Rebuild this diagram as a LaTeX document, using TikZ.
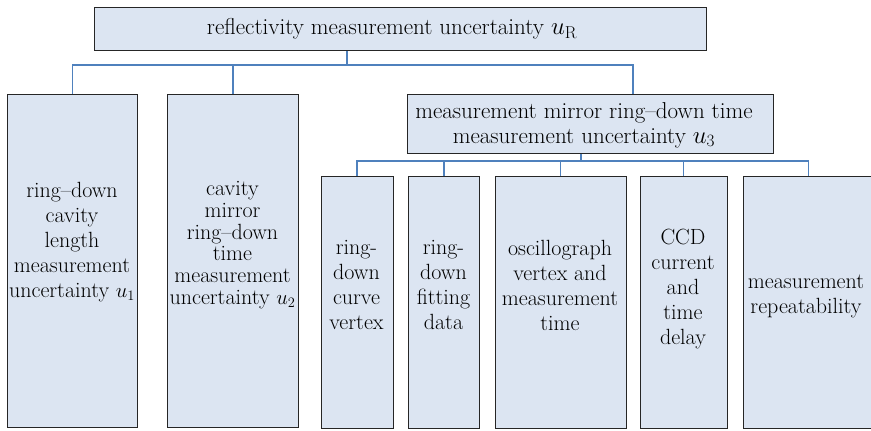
\documentclass[tikz,border=0pt]{standalone}
\definecolor{boxfill}{RGB}{220,229,242}
\definecolor{linkblue}{RGB}{79,129,189}
\begin{document}
\begin{tikzpicture}[x=1pt,y=-1pt,
  box/.style={draw=black!85, line width=1.1pt, fill=boxfill, inner sep=0pt, anchor=north west},
  lbl/.style={font=\fontsize{22}{25}\selectfont, align=center, inner sep=0pt},
  link/.style={draw=linkblue, line width=1.3pt}]
\useasboundingbox (0,0) rectangle (871,431);

% top level
\node[box, minimum width=612pt, minimum height=43pt] (top) at (94,7) {};
\node[lbl, font=\fontsize{23}{25}\selectfont] (toptxt) at (392,29) {reflectivity measurement uncertainty $u_{\mathrm{R}}$};

% second level
\node[box, minimum width=130pt, minimum height=333pt] (b1) at (7,94) {};
\node[box, minimum width=131pt, minimum height=333pt] (b2) at (167,94) {};
\node[box, minimum width=366pt, minimum height=59pt] (b3) at (407,94) {};
\node[lbl] (b1txt) at (72,242) {ring--down\\cavity\\length\\measurement\\uncertainty $u_1$};
\node[lbl, font=\fontsize{22}{21.7}\selectfont] (b2txt) at (232.5,245) {cavity\\mirror\\ring--down\\time\\measurement\\uncertainty $u_2$};
\node[lbl, font=\fontsize{23}{25}\selectfont] (b3txt) at (584,125) {measurement mirror ring--down time\\measurement uncertainty $u_3$};

% third level
\node[box, minimum width=72pt, minimum height=252pt] (c1) at (320.5,176) {};
\node[box, minimum width=71pt, minimum height=252pt] (c2) at (408,176) {};
\node[box, minimum width=131pt, minimum height=252pt] (c3) at (494.5,176) {};
\node[box, minimum width=87pt, minimum height=252pt] (c4) at (639.5,176) {};
\node[box, minimum width=130pt, minimum height=252pt] (c5) at (743,176) {};
\node[lbl] (c1txt) at (356.5,285) {ring-\\down\\curve\\vertex};
\node[lbl] (c2txt) at (443.5,285) {ring-\\down\\fitting\\data};
\node[lbl] (c3txt) at (560,285) {oscillograph\\vertex and\\measurement\\time};
\node[lbl] (c4txt) at (683,289) {CCD\\current\\and\\time\\delay};
\node[lbl] (c5txt) at (806,296) {measurement\\repeatability};

% junction points of the connector trees
\coordinate (j0) at (347,65);
\coordinate (j1) at (633,65);
\coordinate (k0) at (581,161);

% connectors from the top box
\draw[link] (j0 |- top.south) -- (j0);
\draw[link] (b1.north) |- (j1) -- (j1 |- b3.north);
\draw[link] (b2.north) -- (b2.north |- j0);

% connectors from the u3 box
\draw[link] (k0 |- b3.south) -- (k0);
\draw[link] (c1.north) |- (c5.north |- k0) -- (c5.north);
\draw[link] (c2.north) -- (c2.north |- k0);
\draw[link] (c3.north) -- (c3.north |- k0);
\draw[link] (c4.north) -- (c4.north |- k0);
\end{tikzpicture}
\end{document}
